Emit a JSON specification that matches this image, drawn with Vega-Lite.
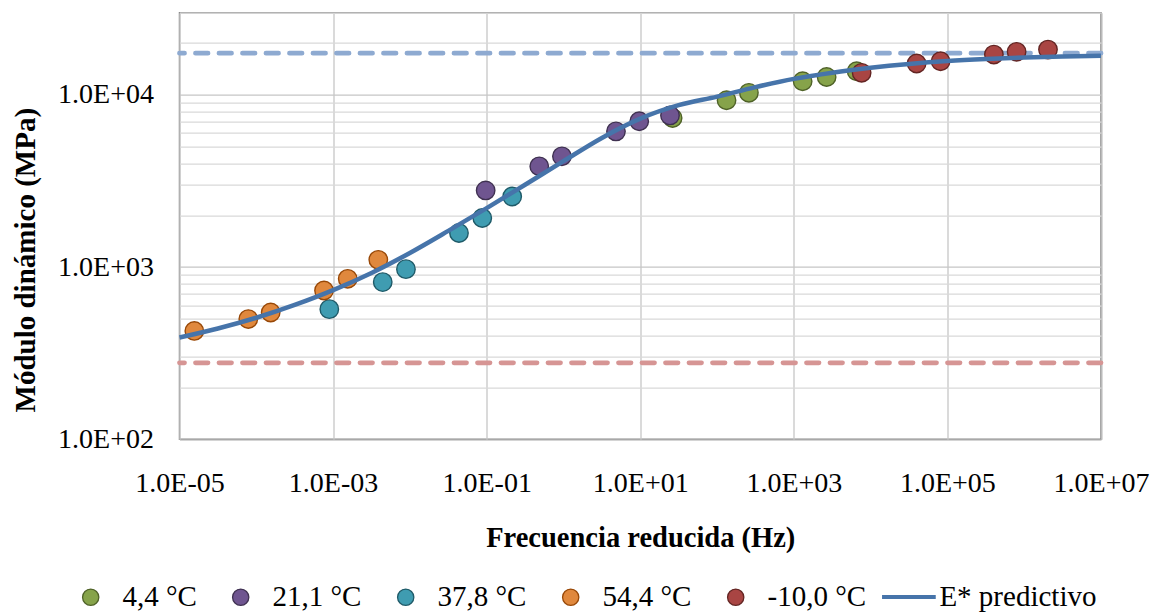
{
  "$schema": "https://vega.github.io/schema/vega-lite/v6.json",
  "width": 921.5,
  "height": 426.6,
  "autosize": {"type": "none"},
  "padding": {"left": 179.5, "top": 12.7, "right": 57, "bottom": 175.7},
  "background": "white",
  "config": {
    "view": {"stroke": "#8a8a8a", "strokeWidth": 1.5},
    "font": "Liberation Serif"
  },
  "datasets": {
    "puntos": [
      {"f": 26.4, "E": 7340, "serie": "4,4 °C"},
      {"f": 133, "E": 9310, "serie": "4,4 °C"},
      {"f": 260, "E": 10280, "serie": "4,4 °C"},
      {"f": 1303, "E": 11990, "serie": "4,4 °C"},
      {"f": 2673, "E": 12700, "serie": "4,4 °C"},
      {"f": 6577, "E": 13710, "serie": "4,4 °C"},
      {"f": 0.097, "E": 2788, "serie": "21,1 °C"},
      {"f": 0.484, "E": 3846, "serie": "21,1 °C"},
      {"f": 0.955, "E": 4396, "serie": "21,1 °C"},
      {"f": 4.83, "E": 6138, "serie": "21,1 °C"},
      {"f": 9.7, "E": 7030, "serie": "21,1 °C"},
      {"f": 24.4, "E": 7600, "serie": "21,1 °C"},
      {"f": 0.000893, "E": 570, "serie": "37,8 °C"},
      {"f": 0.00443, "E": 818, "serie": "37,8 °C"},
      {"f": 0.00889, "E": 973, "serie": "37,8 °C"},
      {"f": 0.0436, "E": 1578, "serie": "37,8 °C"},
      {"f": 0.0877, "E": 1928, "serie": "37,8 °C"},
      {"f": 0.215, "E": 2570, "serie": "37,8 °C"},
      {"f": 0.0000156, "E": 426, "serie": "54,4 °C"},
      {"f": 0.0000787, "E": 499, "serie": "54,4 °C"},
      {"f": 0.000154, "E": 545, "serie": "54,4 °C"},
      {"f": 0.000762, "E": 731, "serie": "54,4 °C"},
      {"f": 0.00155, "E": 855, "serie": "54,4 °C"},
      {"f": 0.00388, "E": 1102, "serie": "54,4 °C"},
      {"f": 7638, "E": 13430, "serie": "-10,0 °C"},
      {"f": 39720, "E": 15210, "serie": "-10,0 °C"},
      {"f": 81470, "E": 15670, "serie": "-10,0 °C"},
      {"f": 402700, "E": 17140, "serie": "-10,0 °C"},
      {"f": 796200, "E": 17780, "serie": "-10,0 °C"},
      {"f": 2040000, "E": 18330, "serie": "-10,0 °C"}
    ],
    "curva": [
      {"f": 0.00001, "E": 390, "serie": "E* predictivo"},
      {"f": 0.00003162, "E": 440, "serie": "E* predictivo"},
      {"f": 0.0001, "E": 508, "serie": "E* predictivo"},
      {"f": 0.0003162, "E": 603, "serie": "E* predictivo"},
      {"f": 0.001, "E": 735, "serie": "E* predictivo"},
      {"f": 0.003162, "E": 925, "serie": "E* predictivo"},
      {"f": 0.01, "E": 1208, "serie": "E* predictivo"},
      {"f": 0.03162, "E": 1622, "serie": "E* predictivo"},
      {"f": 0.1, "E": 2198, "serie": "E* predictivo"},
      {"f": 0.3162, "E": 3006, "serie": "E* predictivo"},
      {"f": 1, "E": 4121, "serie": "E* predictivo"},
      {"f": 3.162, "E": 5623, "serie": "E* predictivo"},
      {"f": 10, "E": 7278, "serie": "E* predictivo"},
      {"f": 31.62, "E": 8710, "serie": "E* predictivo"},
      {"f": 100, "E": 9772, "serie": "E* predictivo"},
      {"f": 316.2, "E": 11092, "serie": "E* predictivo"},
      {"f": 1000, "E": 12388, "serie": "E* predictivo"},
      {"f": 3162, "E": 13459, "serie": "E* predictivo"},
      {"f": 10000, "E": 14355, "serie": "E* predictivo"},
      {"f": 31620, "E": 15101, "serie": "E* predictivo"},
      {"f": 100000, "E": 15704, "serie": "E* predictivo"},
      {"f": 316200, "E": 16144, "serie": "E* predictivo"},
      {"f": 1000000, "E": 16482, "serie": "E* predictivo"},
      {"f": 3162000, "E": 16711, "serie": "E* predictivo"},
      {"f": 10000000, "E": 16866, "serie": "E* predictivo"}
    ],
    "limites": [
      {"E": 17470, "limite": "superior"},
      {"E": 278, "limite": "inferior"}
    ]
  },
  "encoding": {
    "x": {
      "field": "f",
      "type": "quantitative",
      "scale": {"type": "log", "domain": [0.00001, 10000000], "nice": false},
      "axis": {
        "title": "Frecuencia reducida (Hz)",
        "values": [0.00001, 0.001, 0.1, 10, 1000, 100000, 10000000],
        "labelExpr": "'1.0E' + (round(log(datum.value)/LN10) < 0 ? '-' : '+') + (abs(round(log(datum.value)/LN10)) < 10 ? '0' : '') + abs(round(log(datum.value)/LN10))",
        "grid": true,
        "gridColor": "#c6c6c6",
        "gridWidth": 1.3,
        "ticks": false,
        "tickSize": 0,
        "domain": false,
        "labelFont": "Liberation Serif",
        "labelFontSize": 28,
        "labelColor": "#000000",
        "labelPadding": 30,
        "labelFlush": false,
        "labelOverlap": false,
        "titleFont": "Liberation Serif",
        "titleFontSize": 28.5,
        "titleFontWeight": "bold",
        "titleColor": "#000000",
        "titlePadding": 26
      }
    },
    "y": {
      "field": "E",
      "type": "quantitative",
      "scale": {"type": "log", "domain": [100, 30000], "nice": false},
      "axis": {
        "title": "Módulo dinámico (MPa)",
        "values": [100, 200, 300, 400, 500, 600, 700, 800, 900, 1000, 2000, 3000, 4000, 5000, 6000, 7000, 8000, 9000, 10000, 20000, 30000],
        "labelExpr": "abs(log(datum.value)/LN10 - round(log(datum.value)/LN10)) < 0.000001 ? '1.0E' + (round(log(datum.value)/LN10) < 0 ? '-' : '+') + (abs(round(log(datum.value)/LN10)) < 10 ? '0' : '') + abs(round(log(datum.value)/LN10)) : ''",
        "grid": true,
        "gridColor": {"condition": {"test": "abs(log(datum.value)/LN10 - round(log(datum.value)/LN10)) < 0.000001", "value": "#c6c6c6"}, "value": "#d9d9d9"},
        "gridWidth": 1.3,
        "ticks": false,
        "tickSize": 0,
        "domain": false,
        "labelFont": "Liberation Serif",
        "labelFontSize": 28,
        "labelColor": "#000000",
        "labelPadding": 26,
        "labelOverlap": false,
        "labelFlush": false,
        "titleFont": "Liberation Serif",
        "titleFontSize": 29,
        "titleFontWeight": "bold",
        "titleColor": "#000000",
        "titlePadding": 17,
        "titleY": 247
      }
    }
  },
  "layer": [
    {
      "data": {"name": "limites"},
      "mark": {"type": "rule", "strokeWidth": 4.8, "strokeDash": [12.5, 11], "strokeCap": "round"},
      "encoding": {
        "x": null,
        "stroke": {"condition": {"test": "datum.limite == 'superior'", "value": "#8eaad1"}, "value": "#d69594"}
      }
    },
    {
      "data": {"name": "puntos"},
      "mark": {"type": "circle", "size": 340, "strokeWidth": 1.4, "opacity": 1},
      "encoding": {
        "fill": {
          "field": "serie",
          "type": "nominal",
          "scale": {
            "domain": ["4,4 °C", "21,1 °C", "37,8 °C", "54,4 °C", "-10,0 °C"],
            "range": ["#86a34a", "#6f5590", "#3f9cb1", "#e0883d", "#a94543"]
          },
          "legend": {
            "title": null,
            "orient": "none",
            "legendX": -103.3,
            "legendY": 569.8,
            "direction": "horizontal",
            "columns": 5,
            "labelFont": "Liberation Serif",
            "labelFontSize": 29,
            "labelColor": "#000000",
            "symbolType": "circle",
            "symbolSize": 265,
            "symbolStrokeWidth": 1.3,
            "symbolOpacity": 1,
            "labelOffset": 17.3,
            "columnPadding": 29,
            "padding": 0
          }
        },
        "stroke": {
          "field": "serie",
          "type": "nominal",
          "scale": {
            "domain": ["4,4 °C", "21,1 °C", "37,8 °C", "54,4 °C", "-10,0 °C"],
            "range": ["#4f6228", "#3f3151", "#1f5a68", "#984807", "#632523"]
          },
          "legend": {
            "title": null,
            "orient": "none",
            "legendX": -103.3,
            "legendY": 569.8,
            "direction": "horizontal",
            "columns": 5,
            "labelFont": "Liberation Serif",
            "labelFontSize": 29,
            "labelColor": "#000000",
            "symbolType": "circle",
            "symbolSize": 265,
            "symbolStrokeWidth": 1.3,
            "symbolOpacity": 1,
            "labelOffset": 17.3,
            "columnPadding": 29,
            "padding": 0
          }
        }
      }
    },
    {
      "data": {"name": "curva"},
      "mark": {"type": "line", "strokeWidth": 4.5, "interpolate": "monotone"},
      "encoding": {
        "color": {
          "field": "serie",
          "type": "nominal",
          "scale": {"domain": ["E* predictivo"], "range": ["#4674aa"]},
          "legend": {
            "title": null,
            "orient": "none",
            "legendX": 700.4,
            "legendY": 555.3,
            "direction": "horizontal",
            "labelFont": "Liberation Serif",
            "labelFontSize": 29,
            "labelColor": "#000000",
            "symbolType": "stroke",
            "symbolSize": 2884,
            "symbolStrokeWidth": 4,
            "symbolOpacity": 1,
            "labelOffset": 1.5,
            "padding": 0
          }
        }
      }
    }
  ]
}
